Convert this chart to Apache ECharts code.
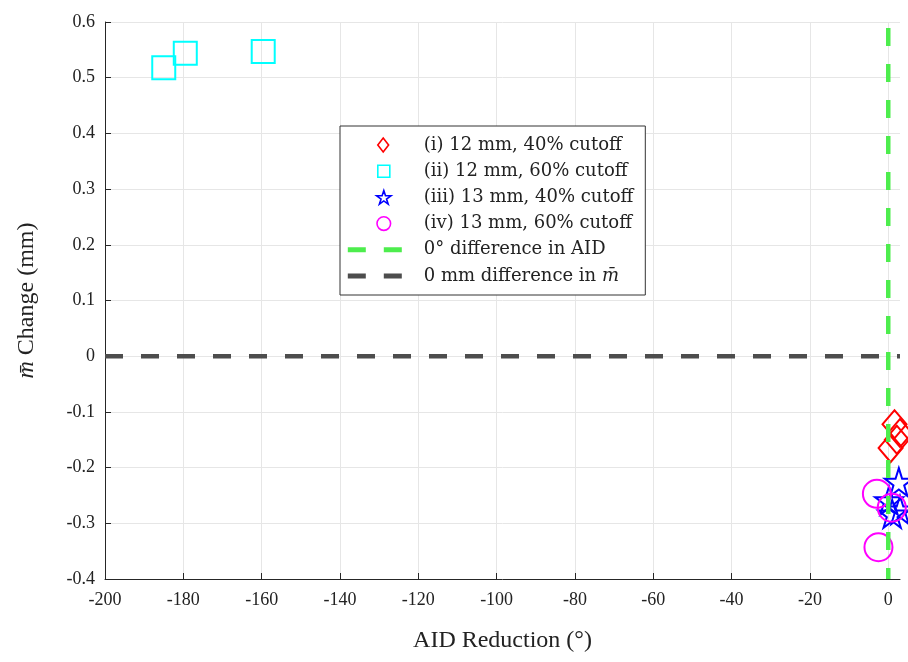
<!DOCTYPE html>
<html>
<head>
<meta charset="utf-8">
<script src="https://cdn.jsdelivr.net/npm/echarts@6/dist/echarts.min.js"></script>
<style>
  html, body { margin: 0; padding: 0; background: #fff; }
  #chart { width: 908px; height: 662px; }
</style>
</head>
<body>
<div id="chart"></div>
<script>
// scatter values [AID reduction (deg), m-bar change (mm)]
var seriesNames = ['(i) 12 mm, 40% cutoff', '(ii) 12 mm, 60% cutoff', '(iii) 13 mm, 40% cutoff', '(iv) 13 mm, 60% cutoff']
var lineNames = ['0° difference in AID', '0 mm difference in m̄']
var case1 = [[1.6, -0.122], [3.0, -0.138], [2.2, -0.150], [0.6, -0.165]]
var case2 = [[-185, 0.518], [-179.5, 0.544], [-159.6, 0.547]]
var case3 = [[2.7, -0.226], [0.2, -0.259], [3.0, -0.276], [1.0, -0.283]]
var case4 = [[-2.9, -0.247], [0.9, -0.272], [-2.5, -0.343]]
var zeroAID = [[0, 0.6], [0, -0.4]]
var zeroM = [[-200, 0], [3, 0]]
var xMin = -200, xMax = 3, xStep = 20
var yMin = -0.4, yMax = 0.6, yStep = 0.1

var star = 'path://M50,0L61.2,34.5L97.6,34.5L68.2,55.9L79.4,90.5L50,69.1L20.6,90.5L31.8,55.9L2.4,34.5L38.8,34.5Z'
// legend icons drawn in a 54x14 box, markers sit right of centre like the original
var box = ' M0,0 M54,14'
var icons = [
  'path://M36,-0.5L41.8,7L36,14.5L30.2,7Z' + box,
  'path://M30,1L42,1L42,13L30,13Z' + box,
  'path://M36,0.2L37.69,5.38L43.13,5.38L38.73,8.59L40.41,13.77L36,10.57L31.59,13.77L33.27,8.59L28.87,5.38L34.31,5.38Z' + box,
  'path://M42.8,7A6.8,6.8 0 1 1 29.2,7A6.8,6.8 0 1 1 42.8,7Z' + box,
  'path://M0,4.5h18v5h-18Z M36,4.5h18v5h-18Z' + box,
  'path://M0,4.5h18v5h-18Z M36,4.5h18v5h-18Z' + box
]
var colors = ['#ff0000', '#00ffff', '#0000ff', '#ff00ff', '#4ded4d', '#4d4d4d']

var font = 'Liberation Serif'
var legendFont = 'DejaVu Serif'
var chart = echarts.init(document.getElementById('chart'))

function markerSeries (i, data, symbol, size) {
  return {
    name: seriesNames[i],
    type: 'scatter',
    data: data,
    symbol: symbol,
    symbolSize: size,
    clip: false,
    z: 3,
    itemStyle: {
      color: 'transparent',
      borderColor: colors[i],
      borderWidth: 2,
      opacity: 1
    },
    emphasis: { disabled: true }
  }
}

var legendData = []
for (var i = 0; i < 6; i++) {
  legendData.push({
    name: i < 4 ? seriesNames[i] : lineNames[i - 4],
    icon: icons[i],
    itemStyle: i < 4
      ? { color: 'transparent', borderColor: colors[i], borderWidth: 1.6 }
      : { color: colors[i], borderWidth: 0, opacity: 1 }
  })
}

var option = {
  backgroundColor: '#fff',
  animation: false,
  grid: {
    left: 105,
    right: 8,
    top: 22,
    bottom: 83
  },
  xAxis: {
    type: 'value',
    min: xMin,
    max: xMax,
    interval: xStep,
    name: 'AID Reduction (°)',
    nameLocation: 'middle',
    nameGap: 50,
    nameTextStyle: { fontFamily: font, fontSize: 24, color: '#222' },
    axisLine: { show: true, onZero: false, lineStyle: { color: '#262626', width: 1 } },
    axisTick: { show: true, inside: true, length: 6, lineStyle: { color: '#262626' } },
    axisLabel: {
      fontFamily: font, fontSize: 18, color: '#222', margin: 12,
      showMaxLabel: false
    },
    splitLine: { show: true, showMaxLine: false, lineStyle: { color: '#e6e6e6', width: 1 } }
  },
  yAxis: {
    type: 'value',
    min: yMin,
    max: yMax,
    interval: yStep,
    name: '{i|m̄} Change (mm)',
    nameLocation: 'middle',
    nameGap: 66,
    nameTextStyle: {
      fontFamily: font, fontSize: 24, color: '#222',
      rich: { i: { fontFamily: font, fontSize: 24, fontStyle: 'italic', color: '#222' } }
    },
    axisLine: { show: true, onZero: false, lineStyle: { color: '#262626', width: 1 } },
    axisTick: { show: true, inside: true, length: 6, lineStyle: { color: '#262626' } },
    axisLabel: { fontFamily: font, fontSize: 18, color: '#222', margin: 10 },
    splitLine: { show: true, lineStyle: { color: '#e6e6e6', width: 1 } }
  },
  legend: {
    orient: 'vertical',
    left: 340,
    top: 126,
    padding: [9, 12, 9, 7],
    itemWidth: 54,
    itemHeight: 14,
    itemGap: 6.2,
    itemStyle: { borderWidth: 1.6 },
    backgroundColor: '#fff',
    borderColor: '#333',
    borderWidth: 1,
    selectedMode: false,
    data: legendData,
    formatter: function (name) {
      if (name === lineNames[1]) return '0 mm difference in {i|m̄}'
      return name
    },
    textStyle: {
      fontFamily: legendFont, fontSize: 18, color: '#222', lineHeight: 20, padding: [0, 0, 0, 17],
      rich: { i: { fontFamily: legendFont, fontSize: 18, fontStyle: 'italic', color: '#222' } }
    }
  },
  series: [
    markerSeries(0, case1, 'diamond', [24, 28]),
    markerSeries(1, case2, 'rect', 23),
    markerSeries(2, case3, star, 28),
    markerSeries(3, case4, 'circle', 28),
    // empty entries only to give the dashed lines a legend row
    { name: lineNames[0], type: 'scatter', data: [], itemStyle: { color: colors[4] } },
    { name: lineNames[1], type: 'scatter', data: [], itemStyle: { color: colors[5] } },
    {
      name: 'zeroAID',
      type: 'line',
      data: zeroAID,
      symbol: 'none',
      z: 4,
      silent: true,
      lineStyle: { color: colors[4], width: 4.5, type: [18, 18], dashOffset: 30, cap: 'butt' }
    },
    {
      name: 'zeroM',
      type: 'line',
      data: zeroM,
      symbol: 'none',
      z: 4,
      silent: true,
      lineStyle: { color: colors[5], width: 4.5, type: [18, 18], cap: 'butt' }
    }
  ]
}
chart.setOption(option)
</script>
</body>
</html>
